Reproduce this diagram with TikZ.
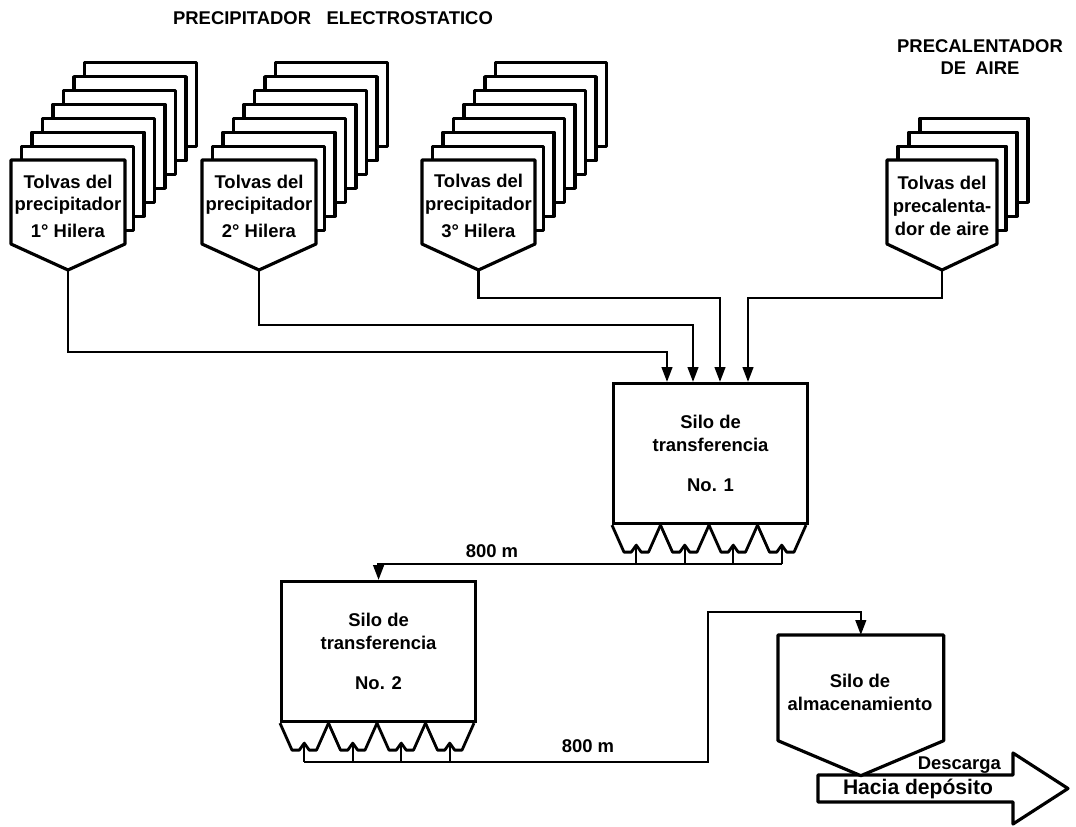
\documentclass[tikz,border=0pt]{standalone}
\usepackage{fontspec}
\setmainfont{Liberation Sans}
\usetikzlibrary{arrows.meta,positioning,calc}

\tikzset{
  lbl/.style={font=\bfseries\fontsize{10.5}{13}\selectfont, align=center, inner sep=1pt},
  card/.style={draw, line width=1.8pt, fill=white, line join=round},
  hop/.style={line width=1.6pt, line join=round},
  pipe/.style={line width=1.4pt},
  feed/.style={line width=1.4pt, -{Triangle[width=6pt,length=8.5pt]}},
  silo/.style={draw, line width=1.8pt, minimum width=3.88cm, minimum height=2.8cm,
    anchor=north west, lbl},
}

\begin{document}
\begin{tikzpicture}[x=0.02cm, y=-0.02cm]
  \useasboundingbox (0,0) rectangle (1076,826);

  \node[lbl] (tit1) at (333,18) {PRECIPITADOR\ \ \ ELECTROSTATICO};
  \node[lbl] (tit2) at (980,57) {PRECALENTADOR\\DE\enspace AIRE};

  % pilas de tolvas
  \foreach \L/\W/\n/\dx/\nm/\txt in {
      11/114/8/10.5/1/{Tolvas del\\precipitador\\[2pt]1° Hilera},
      202/114/8/10.5/2/{Tolvas del\\precipitador\\[2pt]2° Hilera},
      422/113/8/10.5/3/{Tolvas del\\precipitador\\[2pt]3° Hilera},
      887/110/4/11/4/{Tolvas del\\precalenta-\\dor de aire}} {
    \pgfmathtruncatemacro\m{\n-1}
    \foreach \i in {\m,...,1}
      \draw[card] (\L+\i*\dx, 160-\i*13.9) rectangle ++(\W-2,84);
    \draw[card] (\L,160) -- ++(\W,0) -- ++(0,84) -- ++(-\W/2,26) coordinate (p\nm)
      -- ++(-\W/2,-26) -- cycle;
    \node[lbl] (t\nm) at (\L+\W/2,206) {\txt};
  }

  % silo 1
  \node[silo] (s1) at (612,382) {Silo de\\transferencia\\[10pt]No. 1};
  \foreach \k/\dx in {1/55, 2/81, 3/108, 4/136}
    \coordinate (in\k) at ($(s1.north west)+(\dx,0)$);
  \draw[feed] (p1) -- ++(0,82) -| (in1);
  \draw[feed] (p2) -- ++(0,55) -| (in2);
  \draw[feed] (p3) -- ++(0,28) -| (in3);
  \draw[feed] (p4) -- ++(0,28) -| (in4);

  \foreach \i in {0,...,3} {
    \draw[hop] ($(s1.south west)+(\i*48.5,0)$) -- ++(12,27) -- ++(7.25,0)
      -- ++(5,-7) coordinate (a\i) -- ++(5,7) -- ++(7.25,0) -- ++(12,-27);
    \draw[pipe] (a\i) -- ++(0,19);
  }

  % silo 2
  \node[silo] (s2) at (280,580) {Silo de\\transferencia\\[10pt]No. 2};
  \draw[feed] ($(a3)+(0,19)$) -| (s2.north);
  \node[lbl] (d1) at (492,551) {800 m};

  \foreach \i in {0,...,3} {
    \draw[hop] ($(s2.south west)+(\i*48.5,0)$) -- ++(12,27) -- ++(7.25,0)
      -- ++(5,-7) coordinate (b\i) -- ++(5,7) -- ++(7.25,0) -- ++(12,-27);
    \draw[pipe] (b\i) -- ++(0,19);
  }

  % descarga
  \draw[card] (818,775) -- (1013,775) -- (1013,753) -- (1068,788.5) -- (1013,824)
    -- (1013,802) -- (818,802) -- cycle;
  \node[lbl, font=\bfseries\fontsize{12}{14}\selectfont] (dep) at (918,789) {Hacia depósito};
  \node[lbl, anchor=east] (desc) at (1003,765) {Descarga};

  % silo de almacenamiento
  \node[minimum width=3.3cm, minimum height=2.1cm, anchor=north west, inner sep=0] (s3) at (778,635) {};
  \draw[card] (s3.south west) -- (s3.north west) -- (s3.north east) -- (s3.south east)
    -- ($(s3.south)+(0,35)$) -- cycle;
  \node[lbl] (s3t) at (860,692) {Silo de\\almacenamiento};

  \coordinate (bend) at (708,612);
  \draw[feed] ($(b0)+(0,19)$) -| (bend) -| (s3.north);
  \node[lbl] (d2) at (588,746) {800 m};
\end{tikzpicture}
\end{document}
